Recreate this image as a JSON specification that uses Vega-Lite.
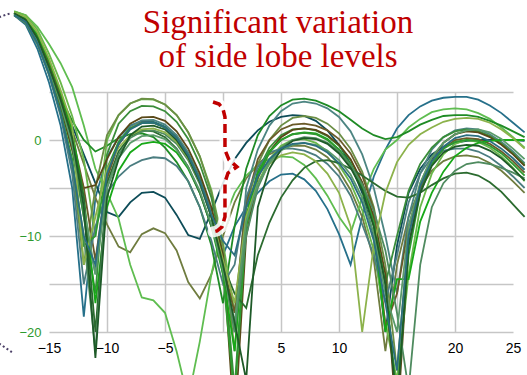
{
"$schema":"https://vega.github.io/schema/vega-lite/v6.json",
"width":464,"height":240,
"autosize":{"type":"none"},
"padding":{"left":49,"top":92,"right":14,"bottom":43},
"background":"white",
"config":{"view":{"stroke":null}},
"datasets":{
"p":[
{"s":"s1","x":-18,"y":13},{"s":"s1","x":-17,"y":12},{"s":"s1","x":-16,"y":9.5},{"s":"s1","x":-15,"y":6},{"s":"s1","x":-14,"y":1.5},{"s":"s1","x":-13,"y":-5},{"s":"s1","x":-12,"y":-18.4},{"s":"s1","x":-11,"y":-6},{"s":"s1","x":-10,"y":-1.8},{"s":"s1","x":-9,"y":0.3},{"s":"s1","x":-8,"y":1.5},{"s":"s1","x":-7,"y":1.95},{"s":"s1","x":-6,"y":1.9},{"s":"s1","x":-5,"y":1.4},{"s":"s1","x":-4,"y":0.3},{"s":"s1","x":-3,"y":-1.5},{"s":"s1","x":-2,"y":-4},{"s":"s1","x":-1,"y":-7.5},{"s":"s1","x":0,"y":-12},{"s":"s1","x":1,"y":-9},{"s":"s1","x":2,"y":-7},{"s":"s1","x":3,"y":-5.5},{"s":"s1","x":4,"y":-4.3},{"s":"s1","x":5,"y":-3.6},{"s":"s1","x":6,"y":-3.5},{"s":"s1","x":7,"y":-4.1},{"s":"s1","x":8,"y":-5.3},{"s":"s1","x":9,"y":-7.2},{"s":"s1","x":10,"y":-9.8},{"s":"s1","x":11,"y":-13},{"s":"s1","x":12,"y":-8},{"s":"s1","x":13,"y":-3.8},{"s":"s1","x":14,"y":-1},{"s":"s1","x":15,"y":1.2},{"s":"s1","x":16,"y":2.6},{"s":"s1","x":17,"y":3.5},{"s":"s1","x":18,"y":4.1},{"s":"s1","x":19,"y":4.4},{"s":"s1","x":20,"y":4.5},{"s":"s1","x":21,"y":4.5},{"s":"s1","x":22,"y":4.2},{"s":"s1","x":23,"y":3.6},{"s":"s1","x":24,"y":2.8},{"s":"s1","x":25,"y":1.8},{"s":"s1","x":26,"y":0.8},
{"s":"s2","x":-18,"y":13.2},{"s":"s2","x":-17,"y":12.5},{"s":"s2","x":-16,"y":10.5},{"s":"s2","x":-15,"y":7.8},{"s":"s2","x":-14,"y":4.5},{"s":"s2","x":-13,"y":1.5},{"s":"s2","x":-12,"y":-1.5},{"s":"s2","x":-11,"y":-4.5},{"s":"s2","x":-10,"y":-7.5},{"s":"s2","x":-9,"y":-8},{"s":"s2","x":-8,"y":-6.5},{"s":"s2","x":-7,"y":-5.5},{"s":"s2","x":-6,"y":-5.4},{"s":"s2","x":-5,"y":-6},{"s":"s2","x":-4,"y":-7.8},{"s":"s2","x":-3,"y":-9.9},{"s":"s2","x":-2,"y":-10.3},{"s":"s2","x":-1,"y":-7.5},{"s":"s2","x":0,"y":-4.5},{"s":"s2","x":1,"y":-2},{"s":"s2","x":2,"y":-0.3},{"s":"s2","x":3,"y":1},{"s":"s2","x":4,"y":1.9},{"s":"s2","x":5,"y":2.4},{"s":"s2","x":6,"y":2.6},{"s":"s2","x":7,"y":2.5},{"s":"s2","x":8,"y":2},{"s":"s2","x":9,"y":1},{"s":"s2","x":10,"y":-0.5},{"s":"s2","x":11,"y":-2.5},{"s":"s2","x":12,"y":-5.5},{"s":"s2","x":13,"y":-10},{"s":"s2","x":14,"y":-20},{"s":"s2","x":15,"y":-11},{"s":"s2","x":16,"y":-5.5},{"s":"s2","x":17,"y":-3},{"s":"s2","x":18,"y":-1.5},{"s":"s2","x":19,"y":-0.7},{"s":"s2","x":20,"y":-0.3},{"s":"s2","x":21,"y":-0.1},{"s":"s2","x":22,"y":0},{"s":"s2","x":23,"y":0},{"s":"s2","x":24,"y":0},{"s":"s2","x":25,"y":0},{"s":"s2","x":26,"y":-0.1},
{"s":"s3","x":-18,"y":13.2},{"s":"s3","x":-17,"y":12.6},{"s":"s3","x":-16,"y":10.8},{"s":"s3","x":-15,"y":8},{"s":"s3","x":-14,"y":4.5},{"s":"s3","x":-13,"y":1},{"s":"s3","x":-12,"y":-2.5},{"s":"s3","x":-11,"y":-6},{"s":"s3","x":-10,"y":-8.8},{"s":"s3","x":-9,"y":-11.1},{"s":"s3","x":-8,"y":-11.7},{"s":"s3","x":-7,"y":-9.8},{"s":"s3","x":-6,"y":-9.2},{"s":"s3","x":-5,"y":-9.7},{"s":"s3","x":-4,"y":-11.5},{"s":"s3","x":-3,"y":-14.8},{"s":"s3","x":-2,"y":-16.5},{"s":"s3","x":-1,"y":-14},{"s":"s3","x":0,"y":-10},{"s":"s3","x":1,"y":-6.5},{"s":"s3","x":2,"y":-4},{"s":"s3","x":3,"y":-2.5},{"s":"s3","x":4,"y":-1.5},{"s":"s3","x":5,"y":-0.9},{"s":"s3","x":6,"y":-0.6},{"s":"s3","x":7,"y":-0.6},{"s":"s3","x":8,"y":-1},{"s":"s3","x":9,"y":-1.8},{"s":"s3","x":10,"y":-3.2},{"s":"s3","x":11,"y":-5.2},{"s":"s3","x":12,"y":-8},{"s":"s3","x":13,"y":-12.5},{"s":"s3","x":14,"y":-22},{"s":"s3","x":15,"y":-13},{"s":"s3","x":16,"y":-8},{"s":"s3","x":17,"y":-5},{"s":"s3","x":18,"y":-3.2},{"s":"s3","x":19,"y":-2.2},{"s":"s3","x":20,"y":-1.7},{"s":"s3","x":21,"y":-1.6},{"s":"s3","x":22,"y":-1.8},{"s":"s3","x":23,"y":-2.4},{"s":"s3","x":24,"y":-3.2},{"s":"s3","x":25,"y":-4.3},{"s":"s3","x":26,"y":-5.5},
{"s":"s4","x":-18,"y":13.4},{"s":"s4","x":-17,"y":13},{"s":"s4","x":-16,"y":11.8},{"s":"s4","x":-15,"y":10},{"s":"s4","x":-14,"y":8},{"s":"s4","x":-13,"y":5.5},{"s":"s4","x":-12,"y":1.5},{"s":"s4","x":-11,"y":-3},{"s":"s4","x":-10,"y":-5.5},{"s":"s4","x":-9,"y":-8.2},{"s":"s4","x":-8,"y":-13},{"s":"s4","x":-7,"y":-16.4},{"s":"s4","x":-6,"y":-16.7},{"s":"s4","x":-5,"y":-18},{"s":"s4","x":-4,"y":-22},{"s":"s4","x":-3,"y":-27},{"s":"s4","x":-2,"y":-21},{"s":"s4","x":-1,"y":-14},{"s":"s4","x":0,"y":-8.5},{"s":"s4","x":1,"y":-5.5},{"s":"s4","x":2,"y":-3.7},{"s":"s4","x":3,"y":-2.6},{"s":"s4","x":4,"y":-2},{"s":"s4","x":5,"y":-1.7},{"s":"s4","x":6,"y":-1.8},{"s":"s4","x":7,"y":-2.6},{"s":"s4","x":8,"y":-4},{"s":"s4","x":9,"y":-5.8},{"s":"s4","x":10,"y":-8},{"s":"s4","x":11,"y":-9.7},{"s":"s4","x":12,"y":-6},{"s":"s4","x":13,"y":-3},{"s":"s4","x":14,"y":-1},{"s":"s4","x":15,"y":0},{"s":"s4","x":16,"y":1.3},{"s":"s4","x":17,"y":2.2},{"s":"s4","x":18,"y":2.9},{"s":"s4","x":19,"y":3.2},{"s":"s4","x":20,"y":3.3},{"s":"s4","x":21,"y":3.2},{"s":"s4","x":22,"y":2.8},{"s":"s4","x":23,"y":2.2},{"s":"s4","x":24,"y":1.3},{"s":"s4","x":25,"y":0.3},{"s":"s4","x":26,"y":-0.8},
{"s":"s5","x":-18,"y":13.2},{"s":"s5","x":-17,"y":12.5},{"s":"s5","x":-16,"y":10.5},{"s":"s5","x":-15,"y":7.5},{"s":"s5","x":-14,"y":4.5},{"s":"s5","x":-13,"y":2},{"s":"s5","x":-12,"y":0},{"s":"s5","x":-11,"y":-1.2},{"s":"s5","x":-10,"y":-0.6},{"s":"s5","x":-9,"y":0.2},{"s":"s5","x":-8,"y":0.6},{"s":"s5","x":-7,"y":0.7},{"s":"s5","x":-6,"y":0.3},{"s":"s5","x":-5,"y":-0.8},{"s":"s5","x":-4,"y":-2.3},{"s":"s5","x":-3,"y":-4.3},{"s":"s5","x":-2,"y":-7},{"s":"s5","x":-1,"y":-11},{"s":"s5","x":0,"y":-17},{"s":"s5","x":1,"y":-9},{"s":"s5","x":2,"y":-3},{"s":"s5","x":3,"y":0.5},{"s":"s5","x":4,"y":2.5},{"s":"s5","x":5,"y":3.6},{"s":"s5","x":6,"y":4.2},{"s":"s5","x":7,"y":4.3},{"s":"s5","x":8,"y":4.1},{"s":"s5","x":9,"y":3.6},{"s":"s5","x":10,"y":3},{"s":"s5","x":11,"y":2.1},{"s":"s5","x":12,"y":1.2},{"s":"s5","x":13,"y":0.5},{"s":"s5","x":14,"y":0.1},{"s":"s5","x":15,"y":0.3},{"s":"s5","x":16,"y":0.9},{"s":"s5","x":17,"y":1.6},{"s":"s5","x":18,"y":2.1},{"s":"s5","x":19,"y":2.5},{"s":"s5","x":20,"y":2.6},{"s":"s5","x":21,"y":2.6},{"s":"s5","x":22,"y":2.4},{"s":"s5","x":23,"y":2},{"s":"s5","x":24,"y":1.5},{"s":"s5","x":25,"y":0.9},{"s":"s5","x":26,"y":0.3},
{"s":"s6","x":-18,"y":13.2},{"s":"s6","x":-17,"y":12.5},{"s":"s6","x":-16,"y":10.5},{"s":"s6","x":-15,"y":7.5},{"s":"s6","x":-14,"y":4},{"s":"s6","x":-13,"y":-0.5},{"s":"s6","x":-12,"y":-8},{"s":"s6","x":-11,"y":-14},{"s":"s6","x":-10,"y":-3.5},{"s":"s6","x":-9,"y":-0.2},{"s":"s6","x":-8,"y":1.4},{"s":"s6","x":-7,"y":2.05},{"s":"s6","x":-6,"y":2.1},{"s":"s6","x":-5,"y":1.6},{"s":"s6","x":-4,"y":0.5},{"s":"s6","x":-3,"y":-1.3},{"s":"s6","x":-2,"y":-3.9},{"s":"s6","x":-1,"y":-7.5},{"s":"s6","x":0,"y":-12},{"s":"s6","x":1,"y":-20},{"s":"s6","x":2,"y":-5},{"s":"s6","x":3,"y":-1},{"s":"s6","x":4,"y":1.5},{"s":"s6","x":5,"y":3},{"s":"s6","x":6,"y":3.8},{"s":"s6","x":7,"y":4},{"s":"s6","x":8,"y":3.8},{"s":"s6","x":9,"y":3.3},{"s":"s6","x":10,"y":2.4},{"s":"s6","x":11,"y":0.9},{"s":"s6","x":12,"y":-1.5},{"s":"s6","x":13,"y":-5},{"s":"s6","x":14,"y":-10},{"s":"s6","x":15,"y":-16},{"s":"s6","x":16,"y":-8},{"s":"s6","x":17,"y":-3.5},{"s":"s6","x":18,"y":-1},{"s":"s6","x":19,"y":0.3},{"s":"s6","x":20,"y":1},{"s":"s6","x":21,"y":1.2},{"s":"s6","x":22,"y":1.1},{"s":"s6","x":23,"y":0.6},{"s":"s6","x":24,"y":-0.2},{"s":"s6","x":25,"y":-1.2},{"s":"s6","x":26,"y":-2.4},
{"s":"s7","x":-18,"y":13.4},{"s":"s7","x":-17,"y":13},{"s":"s7","x":-16,"y":11.5},{"s":"s7","x":-15,"y":9},{"s":"s7","x":-14,"y":6},{"s":"s7","x":-13,"y":2.5},{"s":"s7","x":-12,"y":-2},{"s":"s7","x":-11,"y":-10},{"s":"s7","x":-10,"y":0},{"s":"s7","x":-9,"y":2.6},{"s":"s7","x":-8,"y":3.8},{"s":"s7","x":-7,"y":4.25},{"s":"s7","x":-6,"y":4.2},{"s":"s7","x":-5,"y":3.7},{"s":"s7","x":-4,"y":2.6},{"s":"s7","x":-3,"y":0.8},{"s":"s7","x":-2,"y":-1.7},{"s":"s7","x":-1,"y":-5.2},{"s":"s7","x":0,"y":-10.7},{"s":"s7","x":1,"y":-18},{"s":"s7","x":2,"y":-9},{"s":"s7","x":3,"y":-4.5},{"s":"s7","x":4,"y":-2},{"s":"s7","x":5,"y":-0.6},{"s":"s7","x":6,"y":0},{"s":"s7","x":7,"y":0.1},{"s":"s7","x":8,"y":-0.3},{"s":"s7","x":9,"y":-1.2},{"s":"s7","x":10,"y":-2.6},{"s":"s7","x":11,"y":-4.5},{"s":"s7","x":12,"y":-7.3},{"s":"s7","x":13,"y":-11.5},{"s":"s7","x":14,"y":-19},{"s":"s7","x":15,"y":-25},{"s":"s7","x":16,"y":-14},{"s":"s7","x":17,"y":-7},{"s":"s7","x":18,"y":-3.5},{"s":"s7","x":19,"y":-1.5},{"s":"s7","x":20,"y":-0.4},{"s":"s7","x":21,"y":0},{"s":"s7","x":22,"y":-0.2},{"s":"s7","x":23,"y":-0.8},{"s":"s7","x":24,"y":-1.7},{"s":"s7","x":25,"y":-2.9},{"s":"s7","x":26,"y":-4.3},
{"s":"s8","x":-18,"y":13},{"s":"s8","x":-17,"y":12.2},{"s":"s8","x":-16,"y":10},{"s":"s8","x":-15,"y":7},{"s":"s8","x":-14,"y":3},{"s":"s8","x":-13,"y":-2.5},{"s":"s8","x":-12,"y":-13},{"s":"s8","x":-11,"y":-5},{"s":"s8","x":-10,"y":0.5},{"s":"s8","x":-9,"y":2.6},{"s":"s8","x":-8,"y":3.8},{"s":"s8","x":-7,"y":4.3},{"s":"s8","x":-6,"y":4.25},{"s":"s8","x":-5,"y":3.7},{"s":"s8","x":-4,"y":2.6},{"s":"s8","x":-3,"y":0.8},{"s":"s8","x":-2,"y":-1.7},{"s":"s8","x":-1,"y":-5.5},{"s":"s8","x":0,"y":-11},{"s":"s8","x":1,"y":-22},{"s":"s8","x":2,"y":-7},{"s":"s8","x":3,"y":-2.5},{"s":"s8","x":4,"y":0},{"s":"s8","x":5,"y":1.5},{"s":"s8","x":6,"y":2.3},{"s":"s8","x":7,"y":2.5},{"s":"s8","x":8,"y":2.3},{"s":"s8","x":9,"y":1.7},{"s":"s8","x":10,"y":0.7},{"s":"s8","x":11,"y":-0.9},{"s":"s8","x":12,"y":-3.3},{"s":"s8","x":13,"y":-7},{"s":"s8","x":14,"y":-13},{"s":"s8","x":15,"y":-24},{"s":"s8","x":16,"y":-10},{"s":"s8","x":17,"y":-4.5},{"s":"s8","x":18,"y":-1.8},{"s":"s8","x":19,"y":-0.3},{"s":"s8","x":20,"y":0.6},{"s":"s8","x":21,"y":1},{"s":"s8","x":22,"y":0.9},{"s":"s8","x":23,"y":0.4},{"s":"s8","x":24,"y":-0.4},{"s":"s8","x":25,"y":-1.4},{"s":"s8","x":26,"y":-2.6},
{"s":"s9","x":-18,"y":13.2},{"s":"s9","x":-17,"y":12.4},{"s":"s9","x":-16,"y":10.3},{"s":"s9","x":-15,"y":7.2},{"s":"s9","x":-14,"y":3.5},{"s":"s9","x":-13,"y":-1},{"s":"s9","x":-12,"y":-8},{"s":"s9","x":-11,"y":-16},{"s":"s9","x":-10,"y":-1.5},{"s":"s9","x":-9,"y":1.7},{"s":"s9","x":-8,"y":3},{"s":"s9","x":-7,"y":3.55},{"s":"s9","x":-6,"y":3.5},{"s":"s9","x":-5,"y":3},{"s":"s9","x":-4,"y":1.9},{"s":"s9","x":-3,"y":0.1},{"s":"s9","x":-2,"y":-2.5},{"s":"s9","x":-1,"y":-6},{"s":"s9","x":0,"y":-12},{"s":"s9","x":1,"y":-26},{"s":"s9","x":2,"y":-8},{"s":"s9","x":3,"y":-3.2},{"s":"s9","x":4,"y":-0.8},{"s":"s9","x":5,"y":0.5},{"s":"s9","x":6,"y":1.1},{"s":"s9","x":7,"y":1.2},{"s":"s9","x":8,"y":1},{"s":"s9","x":9,"y":0.4},{"s":"s9","x":10,"y":-0.6},{"s":"s9","x":11,"y":-2.1},{"s":"s9","x":12,"y":-4.5},{"s":"s9","x":13,"y":-8.5},{"s":"s9","x":14,"y":-15},{"s":"s9","x":15,"y":-10},{"s":"s9","x":16,"y":-5.3},{"s":"s9","x":17,"y":-2.5},{"s":"s9","x":18,"y":-0.8},{"s":"s9","x":19,"y":0.3},{"s":"s9","x":20,"y":0.9},{"s":"s9","x":21,"y":1.1},{"s":"s9","x":22,"y":0.9},{"s":"s9","x":23,"y":0.4},{"s":"s9","x":24,"y":-0.4},{"s":"s9","x":25,"y":-1.4},{"s":"s9","x":26,"y":-2.6},
{"s":"s10","x":-18,"y":13.2},{"s":"s10","x":-17,"y":12.5},{"s":"s10","x":-16,"y":10.5},{"s":"s10","x":-15,"y":7.5},{"s":"s10","x":-14,"y":3.5},{"s":"s10","x":-13,"y":-1},{"s":"s10","x":-12,"y":-5},{"s":"s10","x":-11,"y":-4.7},{"s":"s10","x":-10,"y":-2},{"s":"s10","x":-9,"y":0.3},{"s":"s10","x":-8,"y":1.7},{"s":"s10","x":-7,"y":2.35},{"s":"s10","x":-6,"y":2.4},{"s":"s10","x":-5,"y":2},{"s":"s10","x":-4,"y":0.9},{"s":"s10","x":-3,"y":-0.9},{"s":"s10","x":-2,"y":-3.5},{"s":"s10","x":-1,"y":-7},{"s":"s10","x":0,"y":-12},{"s":"s10","x":1,"y":-30},{"s":"s10","x":2,"y":-10},{"s":"s10","x":3,"y":-4},{"s":"s10","x":4,"y":-1.2},{"s":"s10","x":5,"y":0.3},{"s":"s10","x":6,"y":1.05},{"s":"s10","x":7,"y":1.2},{"s":"s10","x":8,"y":1.05},{"s":"s10","x":9,"y":0.5},{"s":"s10","x":10,"y":-0.5},{"s":"s10","x":11,"y":-2},{"s":"s10","x":12,"y":-4.4},{"s":"s10","x":13,"y":-8},{"s":"s10","x":14,"y":-14},{"s":"s10","x":15,"y":-30},{"s":"s10","x":16,"y":-11},{"s":"s10","x":17,"y":-5},{"s":"s10","x":18,"y":-2},{"s":"s10","x":19,"y":-0.3},{"s":"s10","x":20,"y":0.6},{"s":"s10","x":21,"y":0.9},{"s":"s10","x":22,"y":0.8},{"s":"s10","x":23,"y":0.3},{"s":"s10","x":24,"y":-0.5},{"s":"s10","x":25,"y":-1.5},{"s":"s10","x":26,"y":-2.7},
{"s":"s11","x":-18,"y":13.2},{"s":"s11","x":-17,"y":12.6},{"s":"s11","x":-16,"y":10.8},{"s":"s11","x":-15,"y":8},{"s":"s11","x":-14,"y":4.5},{"s":"s11","x":-13,"y":0.5},{"s":"s11","x":-12,"y":-5},{"s":"s11","x":-11,"y":-12.5},{"s":"s11","x":-10,"y":-4},{"s":"s11","x":-9,"y":-0.5},{"s":"s11","x":-8,"y":1.2},{"s":"s11","x":-7,"y":1.8},{"s":"s11","x":-6,"y":1.8},{"s":"s11","x":-5,"y":1.3},{"s":"s11","x":-4,"y":0.2},{"s":"s11","x":-3,"y":-1.7},{"s":"s11","x":-2,"y":-4.3},{"s":"s11","x":-1,"y":-8},{"s":"s11","x":0,"y":-13},{"s":"s11","x":1,"y":-18},{"s":"s11","x":2,"y":-6.5},{"s":"s11","x":3,"y":-2},{"s":"s11","x":4,"y":0},{"s":"s11","x":5,"y":1.1},{"s":"s11","x":6,"y":1.6},{"s":"s11","x":7,"y":1.7},{"s":"s11","x":8,"y":1.5},{"s":"s11","x":9,"y":1},{"s":"s11","x":10,"y":0.1},{"s":"s11","x":11,"y":-1.4},{"s":"s11","x":12,"y":-3.7},{"s":"s11","x":13,"y":-7.3},{"s":"s11","x":14,"y":-19.5},{"s":"s11","x":15,"y":-16},{"s":"s11","x":16,"y":-9},{"s":"s11","x":17,"y":-5},{"s":"s11","x":18,"y":-2.5},{"s":"s11","x":19,"y":-0.9},{"s":"s11","x":20,"y":0},{"s":"s11","x":21,"y":0.2},{"s":"s11","x":22,"y":0.1},{"s":"s11","x":23,"y":-0.4},{"s":"s11","x":24,"y":-1.2},{"s":"s11","x":25,"y":-2.2},{"s":"s11","x":26,"y":-3.4},
{"s":"s12","x":-18,"y":13},{"s":"s12","x":-17,"y":12.2},{"s":"s12","x":-16,"y":10},{"s":"s12","x":-15,"y":6.8},{"s":"s12","x":-14,"y":2.5},{"s":"s12","x":-13,"y":-3.5},{"s":"s12","x":-12,"y":-15},{"s":"s12","x":-11,"y":-9},{"s":"s12","x":-10,"y":-5.5},{"s":"s12","x":-9,"y":-3.8},{"s":"s12","x":-8,"y":-2.7},{"s":"s12","x":-7,"y":-2.1},{"s":"s12","x":-6,"y":-1.8},{"s":"s12","x":-5,"y":-1.9},{"s":"s12","x":-4,"y":-2.7},{"s":"s12","x":-3,"y":-4.3},{"s":"s12","x":-2,"y":-7},{"s":"s12","x":-1,"y":-10.5},{"s":"s12","x":0,"y":-15},{"s":"s12","x":1,"y":-13},{"s":"s12","x":2,"y":-6},{"s":"s12","x":3,"y":-2.8},{"s":"s12","x":4,"y":-1.3},{"s":"s12","x":5,"y":-0.9},{"s":"s12","x":6,"y":-0.9},{"s":"s12","x":7,"y":-1.1},{"s":"s12","x":8,"y":-1.6},{"s":"s12","x":9,"y":-2.5},{"s":"s12","x":10,"y":-3.8},{"s":"s12","x":11,"y":-5.8},{"s":"s12","x":12,"y":-8.8},{"s":"s12","x":13,"y":-12},{"s":"s12","x":14,"y":-16.9},{"s":"s12","x":15,"y":-12},{"s":"s12","x":16,"y":-6.5},{"s":"s12","x":17,"y":-3.5},{"s":"s12","x":18,"y":-1.8},{"s":"s12","x":19,"y":-1.1},{"s":"s12","x":20,"y":-0.9},{"s":"s12","x":21,"y":-0.9},{"s":"s12","x":22,"y":-1.2},{"s":"s12","x":23,"y":-1.8},{"s":"s12","x":24,"y":-2.7},{"s":"s12","x":25,"y":-3.8},{"s":"s12","x":26,"y":-5},
{"s":"s13","x":-18,"y":13.3},{"s":"s13","x":-17,"y":12.7},{"s":"s13","x":-16,"y":11},{"s":"s13","x":-15,"y":8.3},{"s":"s13","x":-14,"y":5},{"s":"s13","x":-13,"y":1},{"s":"s13","x":-12,"y":-6},{"s":"s13","x":-11,"y":-17},{"s":"s13","x":-10,"y":-7},{"s":"s13","x":-9,"y":-3.2},{"s":"s13","x":-8,"y":-1.3},{"s":"s13","x":-7,"y":-0.4},{"s":"s13","x":-6,"y":-0.2},{"s":"s13","x":-5,"y":-0.4},{"s":"s13","x":-4,"y":-1.3},{"s":"s13","x":-3,"y":-3},{"s":"s13","x":-2,"y":-5.5},{"s":"s13","x":-1,"y":-9},{"s":"s13","x":0,"y":-14},{"s":"s13","x":1,"y":-22},{"s":"s13","x":2,"y":-8},{"s":"s13","x":3,"y":-3.5},{"s":"s13","x":4,"y":-1.2},{"s":"s13","x":5,"y":0},{"s":"s13","x":6,"y":0.6},{"s":"s13","x":7,"y":0.8},{"s":"s13","x":8,"y":0.7},{"s":"s13","x":9,"y":0.1},{"s":"s13","x":10,"y":-1},{"s":"s13","x":11,"y":-2.6},{"s":"s13","x":12,"y":-5},{"s":"s13","x":13,"y":-9},{"s":"s13","x":14,"y":-20},{"s":"s13","x":15,"y":-14.5},{"s":"s13","x":16,"y":-14.5},{"s":"s13","x":17,"y":-8.5},{"s":"s13","x":18,"y":-5.5},{"s":"s13","x":19,"y":-3.3},{"s":"s13","x":20,"y":-1.7},{"s":"s13","x":21,"y":-0.8},{"s":"s13","x":22,"y":-0.3},{"s":"s13","x":23,"y":-0.1},{"s":"s13","x":24,"y":0},{"s":"s13","x":25,"y":0},{"s":"s13","x":26,"y":0},
{"s":"s14","x":-18,"y":13.1},{"s":"s14","x":-17,"y":12.3},{"s":"s14","x":-16,"y":10.2},{"s":"s14","x":-15,"y":7},{"s":"s14","x":-14,"y":3},{"s":"s14","x":-13,"y":-2},{"s":"s14","x":-12,"y":-11},{"s":"s14","x":-11,"y":-10},{"s":"s14","x":-10,"y":-3},{"s":"s14","x":-9,"y":-0.2},{"s":"s14","x":-8,"y":1.2},{"s":"s14","x":-7,"y":1.75},{"s":"s14","x":-6,"y":1.8},{"s":"s14","x":-5,"y":1.3},{"s":"s14","x":-4,"y":0.2},{"s":"s14","x":-3,"y":-1.6},{"s":"s14","x":-2,"y":-4.2},{"s":"s14","x":-1,"y":-8},{"s":"s14","x":0,"y":-14},{"s":"s14","x":1,"y":-27},{"s":"s14","x":2,"y":-9},{"s":"s14","x":3,"y":-3.8},{"s":"s14","x":4,"y":-1.3},{"s":"s14","x":5,"y":0},{"s":"s14","x":6,"y":0.6},{"s":"s14","x":7,"y":0.75},{"s":"s14","x":8,"y":0.6},{"s":"s14","x":9,"y":0},{"s":"s14","x":10,"y":-1},{"s":"s14","x":11,"y":-2.5},{"s":"s14","x":12,"y":-4.8},{"s":"s14","x":13,"y":-8.6},{"s":"s14","x":14,"y":-15},{"s":"s14","x":15,"y":-27},{"s":"s14","x":16,"y":-12},{"s":"s14","x":17,"y":-5.5},{"s":"s14","x":18,"y":-2.5},{"s":"s14","x":19,"y":-0.9},{"s":"s14","x":20,"y":-0.2},{"s":"s14","x":21,"y":0},{"s":"s14","x":22,"y":-0.1},{"s":"s14","x":23,"y":-0.6},{"s":"s14","x":24,"y":-1.4},{"s":"s14","x":25,"y":-2.5},{"s":"s14","x":26,"y":-3.7},
{"s":"s15","x":-18,"y":13.2},{"s":"s15","x":-17,"y":12.5},{"s":"s15","x":-16,"y":10.5},{"s":"s15","x":-15,"y":7.5},{"s":"s15","x":-14,"y":4},{"s":"s15","x":-13,"y":0},{"s":"s15","x":-12,"y":-6},{"s":"s15","x":-11,"y":-20},{"s":"s15","x":-10,"y":-4.5},{"s":"s15","x":-9,"y":-1.2},{"s":"s15","x":-8,"y":0.4},{"s":"s15","x":-7,"y":1},{"s":"s15","x":-6,"y":0.9},{"s":"s15","x":-5,"y":0.3},{"s":"s15","x":-4,"y":-0.9},{"s":"s15","x":-3,"y":-2.8},{"s":"s15","x":-2,"y":-5.5},{"s":"s15","x":-1,"y":-9},{"s":"s15","x":0,"y":-13},{"s":"s15","x":1,"y":-16},{"s":"s15","x":2,"y":-17.5},{"s":"s15","x":3,"y":-12},{"s":"s15","x":4,"y":-8.6},{"s":"s15","x":5,"y":-6},{"s":"s15","x":6,"y":-4.2},{"s":"s15","x":7,"y":-2.9},{"s":"s15","x":8,"y":-2.2},{"s":"s15","x":9,"y":-2.1},{"s":"s15","x":10,"y":-2.4},{"s":"s15","x":11,"y":-3},{"s":"s15","x":12,"y":-3.7},{"s":"s15","x":13,"y":-4.5},{"s":"s15","x":14,"y":-5.3},{"s":"s15","x":15,"y":-5.9},{"s":"s15","x":16,"y":-6},{"s":"s15","x":17,"y":-5.5},{"s":"s15","x":18,"y":-4.7},{"s":"s15","x":19,"y":-4},{"s":"s15","x":20,"y":-3.5},{"s":"s15","x":21,"y":-3.4},{"s":"s15","x":22,"y":-3.7},{"s":"s15","x":23,"y":-4.4},{"s":"s15","x":24,"y":-5.4},{"s":"s15","x":25,"y":-6.7},{"s":"s15","x":26,"y":-8},
{"s":"s16","x":-18,"y":13},{"s":"s16","x":-17,"y":12.2},{"s":"s16","x":-16,"y":10},{"s":"s16","x":-15,"y":6.8},{"s":"s16","x":-14,"y":2.8},{"s":"s16","x":-13,"y":-2.5},{"s":"s16","x":-12,"y":-10},{"s":"s16","x":-11,"y":-22},{"s":"s16","x":-10,"y":-5},{"s":"s16","x":-9,"y":-1.5},{"s":"s16","x":-8,"y":0.2},{"s":"s16","x":-7,"y":0.9},{"s":"s16","x":-6,"y":1},{"s":"s16","x":-5,"y":0.6},{"s":"s16","x":-4,"y":-0.4},{"s":"s16","x":-3,"y":-2.1},{"s":"s16","x":-2,"y":-4.6},{"s":"s16","x":-1,"y":-8},{"s":"s16","x":0,"y":-13},{"s":"s16","x":1,"y":-20},{"s":"s16","x":2,"y":-10},{"s":"s16","x":3,"y":-5},{"s":"s16","x":4,"y":-2.3},{"s":"s16","x":5,"y":-0.8},{"s":"s16","x":6,"y":0},{"s":"s16","x":7,"y":0.3},{"s":"s16","x":8,"y":0.2},{"s":"s16","x":9,"y":-0.3},{"s":"s16","x":10,"y":-1.2},{"s":"s16","x":11,"y":-2.6},{"s":"s16","x":12,"y":-4.6},{"s":"s16","x":13,"y":-7.4},{"s":"s16","x":14,"y":-11.5},{"s":"s16","x":15,"y":-18},{"s":"s16","x":16,"y":-26},{"s":"s16","x":17,"y":-13},{"s":"s16","x":18,"y":-7},{"s":"s16","x":19,"y":-4.5},{"s":"s16","x":20,"y":-3.2},{"s":"s16","x":21,"y":-2.5},{"s":"s16","x":22,"y":-2.3},{"s":"s16","x":23,"y":-2.5},{"s":"s16","x":24,"y":-2.9},{"s":"s16","x":25,"y":-3.4},{"s":"s16","x":26,"y":-4},
{"s":"s17","x":-18,"y":13.3},{"s":"s17","x":-17,"y":12.8},{"s":"s17","x":-16,"y":11.2},{"s":"s17","x":-15,"y":8.5},{"s":"s17","x":-14,"y":5.2},{"s":"s17","x":-13,"y":1.5},{"s":"s17","x":-12,"y":-13},{"s":"s17","x":-11,"y":-8},{"s":"s17","x":-10,"y":-3},{"s":"s17","x":-9,"y":-0.8},{"s":"s17","x":-8,"y":0.5},{"s":"s17","x":-7,"y":1.1},{"s":"s17","x":-6,"y":1.2},{"s":"s17","x":-5,"y":0.8},{"s":"s17","x":-4,"y":-0.2},{"s":"s17","x":-3,"y":-1.9},{"s":"s17","x":-2,"y":-4.4},{"s":"s17","x":-1,"y":-7.8},{"s":"s17","x":0,"y":-12.5},{"s":"s17","x":1,"y":-17},{"s":"s17","x":2,"y":-8},{"s":"s17","x":3,"y":-4.5},{"s":"s17","x":4,"y":-2.5},{"s":"s17","x":5,"y":-1.6},{"s":"s17","x":6,"y":-1.3},{"s":"s17","x":7,"y":-1.5},{"s":"s17","x":8,"y":-2.2},{"s":"s17","x":9,"y":-3.5},{"s":"s17","x":10,"y":-5.5},{"s":"s17","x":11,"y":-9},{"s":"s17","x":12,"y":-20},{"s":"s17","x":13,"y":-11},{"s":"s17","x":14,"y":-5.5},{"s":"s17","x":15,"y":-2.3},{"s":"s17","x":16,"y":-0.5},{"s":"s17","x":17,"y":0.6},{"s":"s17","x":18,"y":1.3},{"s":"s17","x":19,"y":1.9},{"s":"s17","x":20,"y":2.2},{"s":"s17","x":21,"y":2.3},{"s":"s17","x":22,"y":2.2},{"s":"s17","x":23,"y":1.8},{"s":"s17","x":24,"y":1.1},{"s":"s17","x":25,"y":0.2},{"s":"s17","x":26,"y":-0.9},
{"s":"s18","x":-18,"y":13.1},{"s":"s18","x":-17,"y":12.4},{"s":"s18","x":-16,"y":10.4},{"s":"s18","x":-15,"y":7.4},{"s":"s18","x":-14,"y":3.8},{"s":"s18","x":-13,"y":-0.5},{"s":"s18","x":-12,"y":-7},{"s":"s18","x":-11,"y":-14},{"s":"s18","x":-10,"y":-5},{"s":"s18","x":-9,"y":-1.9},{"s":"s18","x":-8,"y":-0.3},{"s":"s18","x":-7,"y":0.4},{"s":"s18","x":-6,"y":0.5},{"s":"s18","x":-5,"y":0.1},{"s":"s18","x":-4,"y":-1},{"s":"s18","x":-3,"y":-2.8},{"s":"s18","x":-2,"y":-5.3},{"s":"s18","x":-1,"y":-8.8},{"s":"s18","x":0,"y":-13.5},{"s":"s18","x":1,"y":-19},{"s":"s18","x":2,"y":-8.5},{"s":"s18","x":3,"y":-4.6},{"s":"s18","x":4,"y":-2.4},{"s":"s18","x":5,"y":-1.1},{"s":"s18","x":6,"y":-0.5},{"s":"s18","x":7,"y":-0.3},{"s":"s18","x":8,"y":-0.5},{"s":"s18","x":9,"y":-1.1},{"s":"s18","x":10,"y":-2.1},{"s":"s18","x":11,"y":-3.6},{"s":"s18","x":12,"y":-6},{"s":"s18","x":13,"y":-9.8},{"s":"s18","x":14,"y":-16},{"s":"s18","x":15,"y":-20},{"s":"s18","x":16,"y":-9},{"s":"s18","x":17,"y":-4.5},{"s":"s18","x":18,"y":-1.8},{"s":"s18","x":19,"y":-0.3},{"s":"s18","x":20,"y":0.6},{"s":"s18","x":21,"y":1},{"s":"s18","x":22,"y":1.1},{"s":"s18","x":23,"y":0.8},{"s":"s18","x":24,"y":0.1},{"s":"s18","x":25,"y":-0.9},{"s":"s18","x":26,"y":-2},
{"s":"s19","x":-18,"y":13.2},{"s":"s19","x":-17,"y":12.5},{"s":"s19","x":-16,"y":10.6},{"s":"s19","x":-15,"y":7.6},{"s":"s19","x":-14,"y":4.2},{"s":"s19","x":-13,"y":0.2},{"s":"s19","x":-12,"y":-7},{"s":"s19","x":-11,"y":-22.7},{"s":"s19","x":-10,"y":-6},{"s":"s19","x":-9,"y":-2},{"s":"s19","x":-8,"y":0.5},{"s":"s19","x":-7,"y":1.4},{"s":"s19","x":-6,"y":1.5},{"s":"s19","x":-5,"y":1.1},{"s":"s19","x":-4,"y":0},{"s":"s19","x":-3,"y":-1.8},{"s":"s19","x":-2,"y":-4.4},{"s":"s19","x":-1,"y":-8},{"s":"s19","x":0,"y":-13},{"s":"s19","x":1,"y":-19},{"s":"s19","x":2,"y":-25},{"s":"s19","x":3,"y":-7},{"s":"s19","x":4,"y":-3},{"s":"s19","x":5,"y":-1},{"s":"s19","x":6,"y":-0.1},{"s":"s19","x":7,"y":0.2},{"s":"s19","x":8,"y":0.1},{"s":"s19","x":9,"y":-0.4},{"s":"s19","x":10,"y":-1.4},{"s":"s19","x":11,"y":-2.9},{"s":"s19","x":12,"y":-5.2},{"s":"s19","x":13,"y":-9},{"s":"s19","x":14,"y":-15},{"s":"s19","x":15,"y":-28},{"s":"s19","x":16,"y":-11},{"s":"s19","x":17,"y":-5.5},{"s":"s19","x":18,"y":-2.7},{"s":"s19","x":19,"y":-1.3},{"s":"s19","x":20,"y":-0.7},{"s":"s19","x":21,"y":-0.5},{"s":"s19","x":22,"y":-0.6},{"s":"s19","x":23,"y":-1.1},{"s":"s19","x":24,"y":-1.9},{"s":"s19","x":25,"y":-3},{"s":"s19","x":26,"y":-4.2},
{"s":"s20","x":-18,"y":13},{"s":"s20","x":-17,"y":12.3},{"s":"s20","x":-16,"y":10.1},{"s":"s20","x":-15,"y":6.9},{"s":"s20","x":-14,"y":2.8},{"s":"s20","x":-13,"y":-2.5},{"s":"s20","x":-12,"y":-10},{"s":"s20","x":-11,"y":-13},{"s":"s20","x":-10,"y":-3.5},{"s":"s20","x":-9,"y":-0.4},{"s":"s20","x":-8,"y":1.1},{"s":"s20","x":-7,"y":1.75},{"s":"s20","x":-6,"y":1.8},{"s":"s20","x":-5,"y":1.3},{"s":"s20","x":-4,"y":0.2},{"s":"s20","x":-3,"y":-1.6},{"s":"s20","x":-2,"y":-4.2},{"s":"s20","x":-1,"y":-7.8},{"s":"s20","x":0,"y":-10.5},{"s":"s20","x":1,"y":-12},{"s":"s20","x":2,"y":-7},{"s":"s20","x":3,"y":-3.8},{"s":"s20","x":4,"y":-2},{"s":"s20","x":5,"y":-0.9},{"s":"s20","x":6,"y":-0.4},{"s":"s20","x":7,"y":-0.3},{"s":"s20","x":8,"y":-0.6},{"s":"s20","x":9,"y":-1.3},{"s":"s20","x":10,"y":-2.4},{"s":"s20","x":11,"y":-4},{"s":"s20","x":12,"y":-6.5},{"s":"s20","x":13,"y":-10.5},{"s":"s20","x":14,"y":-17},{"s":"s20","x":15,"y":-24},{"s":"s20","x":16,"y":-10},{"s":"s20","x":17,"y":-4.8},{"s":"s20","x":18,"y":-2.2},{"s":"s20","x":19,"y":-0.7},{"s":"s20","x":20,"y":0.2},{"s":"s20","x":21,"y":0.5},{"s":"s20","x":22,"y":0.4},{"s":"s20","x":23,"y":-0.1},{"s":"s20","x":24,"y":-0.9},{"s":"s20","x":25,"y":-1.9},{"s":"s20","x":26,"y":-3.1}
],
"b":[
{"i":1,"x":-0.86,"y":3.96},{"i":2,"x":-0.34,"y":3.75},{"i":3,"x":0.0,"y":3.23},{"i":4,"x":0.17,"y":2.4},{"i":5,"x":0.17,"y":1.04},{"i":6,"x":0.17,"y":-1.04},{"i":7,"x":0.52,"y":-2.08},{"i":8,"x":1.2,"y":-2.8},{"i":9,"x":0.43,"y":-3.44},{"i":10,"x":0.17,"y":-4.4},{"i":11,"x":0.17,"y":-8.0},{"i":12,"x":-0.09,"y":-9.06},{"i":13,"x":-0.52,"y":-9.48},{"i":14,"x":-0.86,"y":-9.58}
],
"d":[
{"g":"a","x":-19.3,"y":12.8},{"g":"a","x":-18.2,"y":13.25},{"g":"b","x":-19.3,"y":-21.2},{"g":"b","x":-18.2,"y":-22.1}
],
"t":[
{"t":"Significant variation","x":4.74,"y":11.15},{"t":"of side lobe levels","x":4.74,"y":7.6}
]
},
"encoding":{
"x":{"field":"x","type":"quantitative","scale":{"domain":[-15,25],"nice":false,"zero":false},
"axis":{"title":null,"values":[-15,-10,-5,0,5,10,15,20,25],"labelExpr":"datum.value == 0 || datum.value == 15 ? '' : datum.label","domain":false,"ticks":false,"labelFont":"Liberation Sans","labelFontSize":14,"labelColor":"#000000","labelPadding":9,"labelOverlap":false,"labelFlush":false,"gridColor":{"condition":{"test":"datum.value == -15 || datum.value == 25","value":"transparent"},"value":"#c6c6c6"},"gridWidth":1.5}},
"y":{"field":"y","type":"quantitative","scale":{"domain":[-20,5],"nice":false,"zero":false},
"axis":{"title":null,"values":[-20,-15,-10,-5,0,5],"labelExpr":"datum.value % 10 == 0 ? datum.label : ''","domain":false,"ticks":false,"labelFont":"Liberation Sans","labelFontSize":13,"labelColor":"#2e9a2e","labelPadding":8,"labelOverlap":false,"gridColor":"#c6c6c6","gridWidth":1.5}}
},
"layer":[
{"data":{"name":"p"},"mark":{"type":"line","strokeWidth":1.8},
"encoding":{"color":{"field":"s","type":"nominal","legend":null,
"scale":{"domain":["s1","s2","s3","s4","s5","s6","s7","s8","s9","s10","s11","s12","s13","s14","s15","s16","s17","s18","s19","s20"],
"range":["#26708a","#0d4c58","#6f7c3f","#5fbd50","#1f8b25","#4c8582","#6ab84a","#6b8e45","#3a8d3a","#5a4818","#6a5a28","#4b7d80","#17a817","#2e9a30","#2b6b2f","#4f8b5f","#8cb24b","#5a9a6a","#1e5a28","#2b6e7f"]}}}},
{"data":{"name":"b"},"mark":{"type":"line","stroke":"white","strokeWidth":11,"opacity":0.85,"strokeCap":"round","strokeJoin":"round"},
"encoding":{"order":{"field":"i","type":"quantitative"}}},
{"data":{"name":"b"},"mark":{"type":"line","stroke":"#c00000","strokeWidth":3.5,"strokeDash":[9,5]},
"encoding":{"order":{"field":"i","type":"quantitative"}}},
{"data":{"name":"d"},"mark":{"type":"line","stroke":"#4a3f66","strokeWidth":2,"strokeDash":[2,2.5]},
"encoding":{"detail":{"field":"g","type":"nominal"}}},
{"data":{"name":"t"},"mark":{"type":"text","font":"Liberation Serif","fontSize":33,"color":"#c00000","align":"center","baseline":"alphabetic"},
"encoding":{"text":{"field":"t","type":"nominal"}}}
]
}
